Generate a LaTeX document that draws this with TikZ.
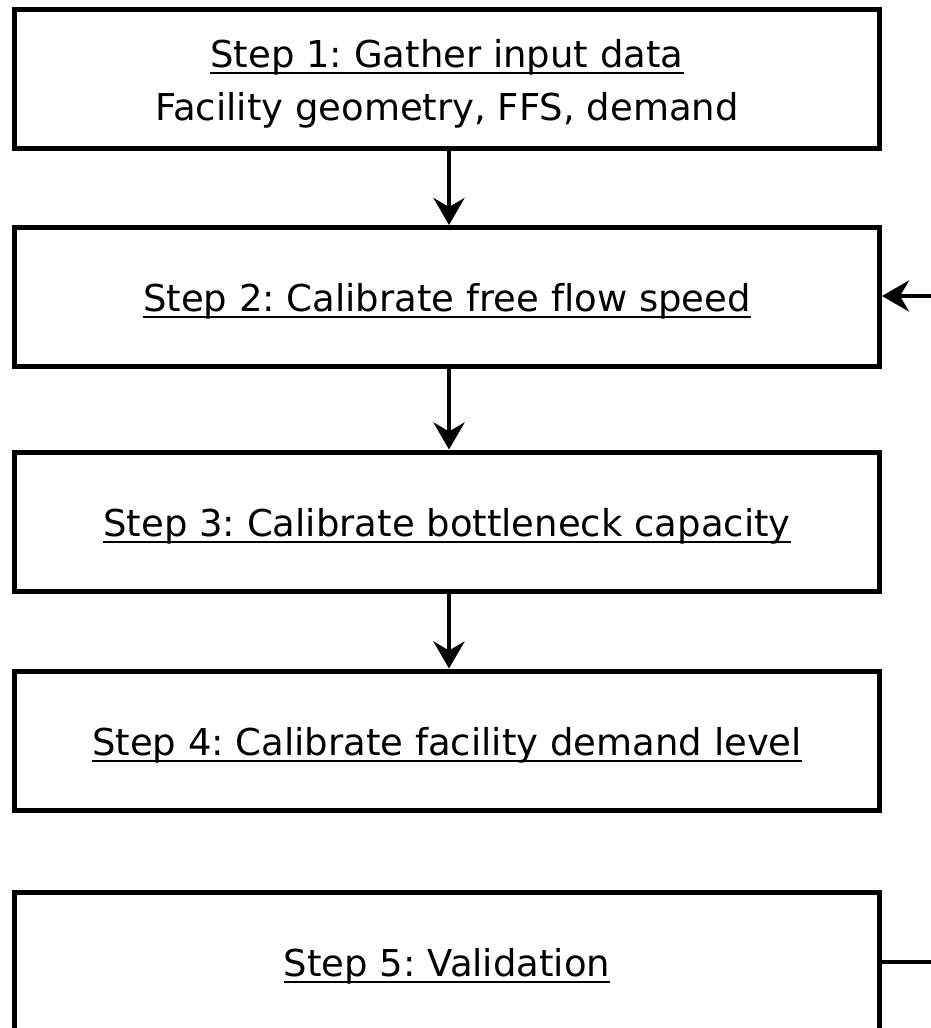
\documentclass[tikz,border=0pt]{standalone}
\usepackage{fontspec}
\setmainfont{DejaVu Sans}[Ligatures={NoCommon}]
\usetikzlibrary{arrows.meta}
% underline at a fixed depth below the baseline, crossing descenders;
% the strut lowers the title a little inside its box
\newcommand{\steptitle}[1]{\rule{0pt}{37pt}\setbox0\hbox{#1}\rlap{\vrule height -4.5pt depth 6.5pt width \wd0}\box0}
\tikzset{
  stepbox/.style={draw, line width=5pt, minimum width=865pt, minimum height=139pt,
    align=center, inner sep=0pt, font=\fontsize{37}{53}\selectfont\frenchspacing},
  flow/.style={line width=4.5pt, -{Stealth[length=27pt,width=31pt,inset=9pt]}},
  link/.style={line width=4.5pt}
}
\begin{document}
\begin{tikzpicture}[x=1pt,y=-1pt]
  \useasboundingbox (0,0) rectangle (931,1028);
  \node[stepbox] (s1) at (447,79) {\steptitle{Step 1: Gather input data}\\Facility geometry, FFS, demand};
  \node[stepbox] (s2) at (447,297) {\steptitle{Step 2: Calibrate free flow speed}};
  \node[stepbox] (s3) at (447,521.5) {\steptitle{Step 3: Calibrate bottleneck capacity}};
  \node[stepbox] (s4) at (447,740.5) {\steptitle{Step 4: Calibrate facility demand level}};
  \node[stepbox] (s5) at (447,962) {\steptitle{Step 5: Validation}};
  \coordinate (back) at (940,296);
  \coordinate (out) at (940,962);
  \draw[flow] (s1.south -| 449,0) -- (s2.north -| 449,0);
  \draw[flow] (s2.south -| 449,0) -- (s3.north -| 449,0);
  \draw[flow] (s3.south -| 449,0) -- (s4.north -| 449,0);
  \draw[flow] (back) -- (back -| s2.east);
  \draw[link] (s5.east) -- (out);
\end{tikzpicture}
\end{document}
